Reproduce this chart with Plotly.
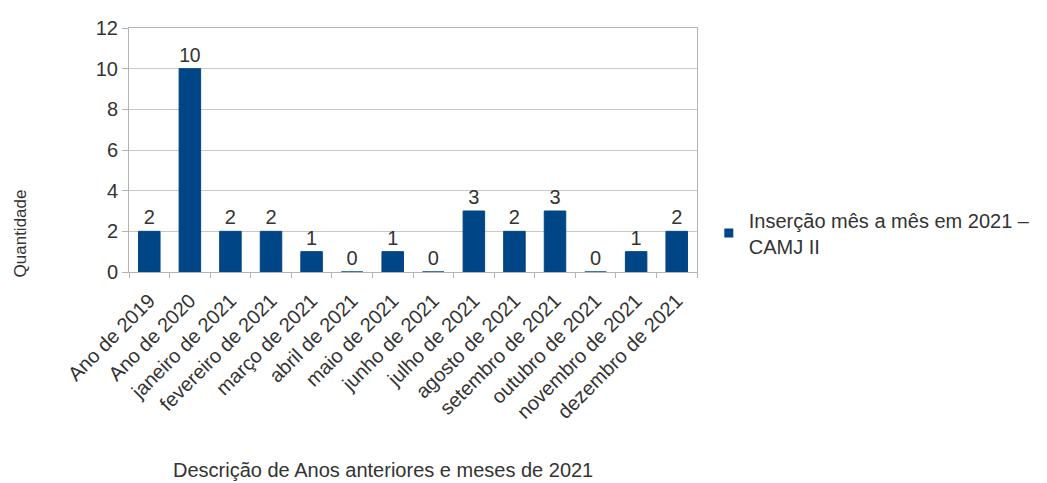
import plotly.graph_objects as go

categories = ["Ano de 2019", "Ano de 2020", "janeiro de 2021", "fevereiro de 2021",
              "março de 2021", "abril de 2021", "maio de 2021", "junho de 2021",
              "julho de 2021", "agosto de 2021", "setembro de 2021", "outubro de 2021",
              "novembro de 2021", "dezembro de 2021"]
values = [2, 10, 2, 2, 1, 0, 1, 0, 3, 2, 3, 0, 1, 2]
series_name = "Inserção mês a mês em 2021 –<br>CAMJ II"
y_ticks = [0, 2, 4, 6, 8, 10, 12]
x_title = "Descrição de Anos anteriores e meses de 2021"
y_title = "Quantidade"

font_family = "Liberation Sans, Arial, sans-serif"
text_color = "#333333"
bar_color = "#004586"
grid_color = "#c8c8c8"
line_color = "#b3b3b3"

fig = go.Figure()
fig.add_trace(go.Bar(
    x=categories, y=values, name=series_name,
    marker=dict(color=bar_color, line=dict(color=bar_color, width=1)),
    text=[str(v) for v in values], textposition="outside",
    textfont=dict(size=20, color=text_color, family=font_family),
    cliponaxis=False, showlegend=False, legendgroup="s",
))
# legend entry with a small square symbol, as in the reference
fig.add_trace(go.Scatter(
    x=[None], y=[None], mode="markers", name=series_name, legendgroup="s",
    marker=dict(symbol="square", size=9, color=bar_color),
    showlegend=True, hoverinfo="skip",
))

# The page body adds an 8px offset, so the figure is sized to the visible area.
fig.update_layout(
    width=1039, height=475,
    margin=dict(l=121, r=349, t=20, b=211),
    paper_bgcolor="white", plot_bgcolor="white",
    font=dict(family=font_family, color=text_color),
    bargap=0.47,
    showlegend=True,
    legend=dict(x=1.019, y=0.16, xanchor="left", yanchor="middle",
                font=dict(size=20, color=text_color), itemwidth=30,
                tracegroupgap=0, bgcolor="rgba(0,0,0,0)"),
    xaxis=dict(
        tickangle=-45, tickfont=dict(size=20, color=text_color),
        showline=True, linecolor=line_color, linewidth=1, mirror=True,
        ticks="outside", ticklen=5, tickcolor=line_color, tickson="boundaries",
        ticklabelstandoff=8,
        showgrid=False, automargin=False,
    ),
    yaxis=dict(
        range=[0, 12], tickvals=y_ticks, tickfont=dict(size=20, color=text_color),
        showgrid=True, gridcolor=grid_color, gridwidth=1,
        showline=True, linecolor=line_color, linewidth=1, mirror=True,
        ticks="outside", ticklen=6, tickcolor=line_color,
        zeroline=False, automargin=False,
    ),
    annotations=[
        dict(text=x_title, xref="paper", yref="paper", x=0.447, y=-0.81,
             xanchor="center", yanchor="middle", showarrow=False,
             font=dict(size=20, color=text_color)),
        dict(text=y_title, xref="paper", yref="paper", x=-0.191, y=0.156,
             xanchor="center", yanchor="middle", showarrow=False, textangle=-90,
             font=dict(size=17, color=text_color)),
    ],
)

fig.write_html("out.html")
